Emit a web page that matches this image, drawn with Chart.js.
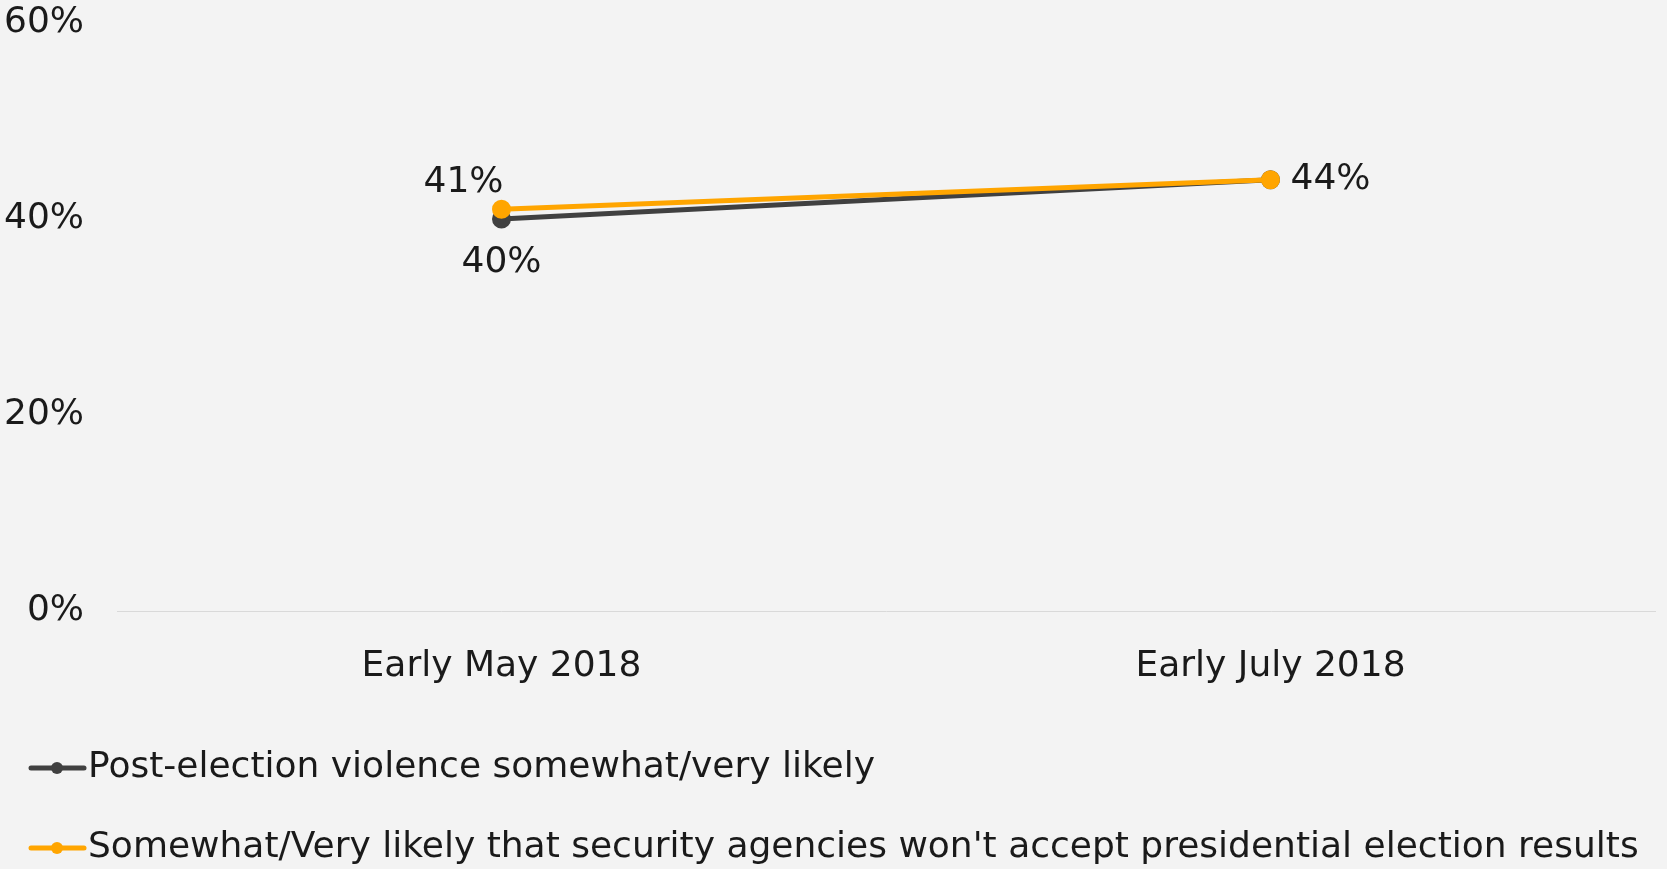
<!DOCTYPE html>
<html>
<head>
<meta charset="utf-8">
<script src="https://cdn.jsdelivr.net/npm/chart.js@4.4.1/dist/chart.umd.min.js"></script>
<style>
  html, body { margin: 0; padding: 0; background: #f3f3f3; overflow: hidden; }
  #wrap { width: 1667px; height: 869px; overflow: hidden; }
</style>
</head>
<body>
<div id="wrap"><canvas id="chart" width="1667" height="876"></canvas></div>
<script>
// data
const categories = ['Early May 2018', 'Early July 2018'];
const violenceValues = [40, 44];
const securityValues = [41, 44];
const seriesNames = [
  'Post-election violence somewhat/very likely',
  "Somewhat/Very likely that security agencies won't accept presidential election results"
];
const yTicks = [0, 20, 40, 60];

const DARK = '#404040';
const ORANGE = '#FFA500';
const FONT = "'DejaVu Sans', sans-serif";
const FONT_SIZE = 36;

// legend marker: short line with a dot, shifted so it sits left of the text
function makeMarker(color) {
  const c = document.createElement('canvas');
  c.width = 60; c.height = 16;
  const g = c.getContext('2d');
  g.strokeStyle = color;
  g.lineWidth = 5;
  g.lineCap = 'round';
  g.beginPath();
  g.moveTo(4, 8);
  g.lineTo(57, 8);
  g.stroke();
  g.fillStyle = color;
  g.beginPath();
  g.arc(30, 8, 6, 0, Math.PI * 2);
  g.fill();
  return c;
}
const markers = [makeMarker(DARK), makeMarker(ORANGE)];

// which points get a value label and where
const labelSpots = [
  ['below', null],
  ['aboveLeft', 'right']
];

const valueLabels = {
  id: 'valueLabels',
  afterDatasetsDraw(chart) {
    const ctx = chart.ctx;
    ctx.save();
    ctx.font = FONT_SIZE + 'px ' + FONT;
    ctx.fillStyle = '#1a1a1a';
    ctx.textBaseline = 'middle';
    chart.data.datasets.forEach((ds, di) => {
      const meta = chart.getDatasetMeta(di);
      meta.data.forEach((pt, i) => {
        const spot = labelSpots[di][i];
        if (!spot) return;
        const txt = ds.data[i] + '%';
        let x = pt.x, y = pt.y;
        if (spot === 'below') { ctx.textAlign = 'center'; y += 44; }
        if (spot === 'aboveLeft') { ctx.textAlign = 'center'; x -= 38; y -= 27; }
        if (spot === 'right') { ctx.textAlign = 'left'; x += 20; }
        ctx.fillText(txt, x, y);
      });
    });
    ctx.restore();
  }
};

const chart = new Chart(document.getElementById('chart').getContext('2d'), {
  type: 'line',
  data: {
    labels: categories,
    datasets: [{
      label: seriesNames[0],
      data: violenceValues,
      borderColor: DARK,
      backgroundColor: DARK,
      borderWidth: 5,
      pointRadius: 7,
      pointHoverRadius: 7,
      order: 1
    }, {
      label: seriesNames[1],
      data: securityValues,
      borderColor: ORANGE,
      backgroundColor: ORANGE,
      borderWidth: 5,
      pointRadius: 7,
      pointHoverRadius: 7,
      order: 0
    }]
  },
  options: {
    responsive: false,
    devicePixelRatio: 1,
    animation: false,
    layout: { padding: { top: 0, right: 8, left: 0, bottom: 0 } },
    plugins: {
      tooltip: { enabled: false },
      legend: {
        position: 'bottom',
        align: 'start',
        labels: {
          usePointStyle: true,
          pointStyleWidth: 26,
          padding: 44,
          color: '#1a1a1a',
          font: { family: FONT, size: FONT_SIZE },
          sort: (a, b) => a.datasetIndex - b.datasetIndex,
          generateLabels(chart) {
            const items = Chart.defaults.plugins.legend.labels.generateLabels(chart);
            items.forEach(it => { it.pointStyle = markers[it.datasetIndex]; });
            return items;
          }
        }
      }
    },
    scales: {
      x: {
        offset: true,
        grid: { display: false },
        border: { display: true, color: '#d9d9d9', width: 1 },
        ticks: {
          color: '#1a1a1a',
          padding: 26,
          font: { family: FONT, size: FONT_SIZE }
        },
        afterFit(scale) { scale.height = 95; }
      },
      y: {
        min: 0,
        max: 60,
        grid: { display: false },
        border: { display: false },
        afterBuildTicks(scale) { scale.ticks = yTicks.map(v => ({ value: v })); },
        ticks: {
          color: '#1a1a1a',
          padding: 25,
          font: { family: FONT, size: FONT_SIZE },
          callback: v => v + '%'
        },
        afterFit(scale) {
          scale.width = 117;
          scale.paddingTop = 23;
          scale.paddingBottom = 0;
        }
      }
    }
  },
  plugins: [valueLabels]
});
</script>
</body>
</html>
